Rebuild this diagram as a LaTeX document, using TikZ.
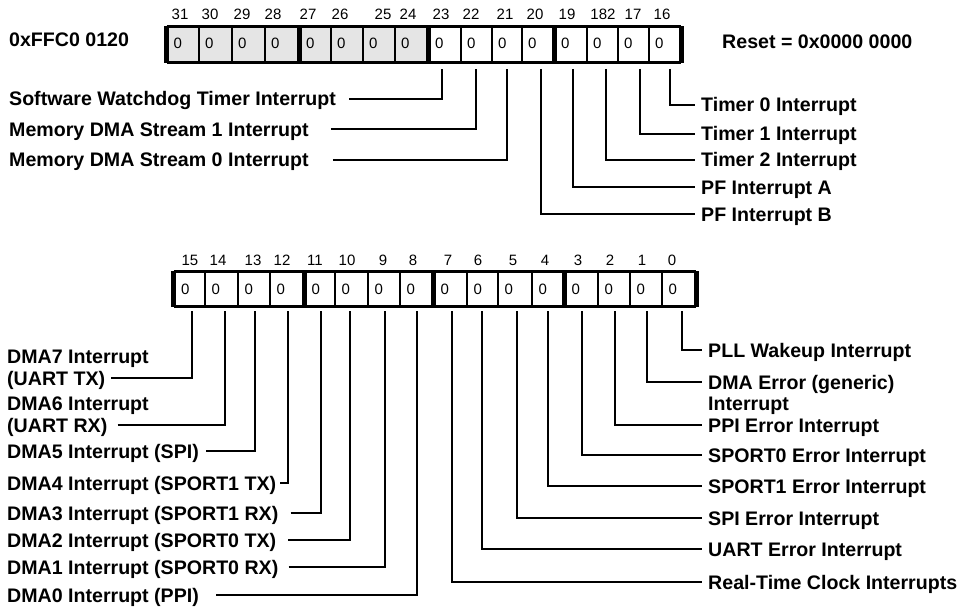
\documentclass[tikz,border=0pt]{standalone}
\usepackage{fontspec}
\setmainfont{Liberation Sans}
\tikzset{
  lab/.style={font=\bfseries\fontsize{19.6}{22}\selectfont, inner sep=0pt, text height=14pt, text depth=0pt},
  labl/.style={lab, anchor=west},
  bitnum/.style={font=\fontsize{15}{17}\selectfont, inner sep=0pt, text height=10.7pt, text depth=0pt},
  zero/.style={font=\fontsize{15}{17}\selectfont, inner sep=0pt, text height=10.7pt, text depth=0pt, anchor=west},
  conn/.style={line width=2pt},
  cell/.style={draw, line width=1.8pt, inner sep=0pt, minimum height=35pt},
  bar/.style={line width=5pt},
  rim/.style={line width=2.6pt},
}
\begin{document}
\begin{tikzpicture}[x=1pt,y=-1pt]
\useasboundingbox[fill=white] (0,0) rectangle (961,607);

% ---------------- top register ----------------
\foreach \b/\l/\r in {31/167.5/199, 30/199/232, 29/232/265, 28/265/300, 27/300/331, 26/331/363, 25/363/395, 24/395/429, 23/429/461, 22/461/492, 21/492/522, 20/522/555, 19/555/587, 18/587/618, 17/618/649, 16/649/680.5}{
  \pgfmathsetmacro\w{\r-\l}
  \pgfmathsetmacro\c{(\l+\r)/2}
  \pgfmathparse{\b>23 ? "black!10" : "white"}
  \edef\fc{\pgfmathresult}
  \node[cell, fill=\fc, minimum width=\w pt] (t\b) at (\c,44.5) {};
  \node[zero] (tz\b) at (\l+6,43) {0};
}
\draw[rim] (t31.north west) -- (t16.north east);
\draw[rim] (t31.south west) -- (t16.south east);
\draw[bar] (t31.north west) -- (t31.south west);
\draw[bar] (t27.north west) -- (t27.south west);
\draw[bar] (t23.north west) -- (t23.south west);
\draw[bar] (t19.north west) -- (t19.south west);
\draw[bar] (t16.north east) -- (t16.south east);

\foreach \b/\x/\t in {31/180/31, 30/210/30, 29/242/29, 28/273/28, 27/308/27, 26/340/26, 25/383/25, 24/408/24, 23/441/23, 22/471/22, 21/505/21, 20/535/20, 19/567/19, 18/603/182, 17/633/17, 16/662/16}{
  \node[bitnum] (tn\b) at (\x,14) {\t};
}

\node[labl] (addr) at (9,40) {0xFFC0 0120};
\node[labl] (reset) at (722,42) {Reset = 0x0000 0000};

% top connectors
\coordinate (v23) at (442,69);
\coordinate (v22) at (476,69);
\coordinate (v21) at (507,69);
\coordinate (v20) at (541,69);
\coordinate (v19) at (573,69);
\coordinate (v18) at (606,69);
\coordinate (v17) at (640,69);
\coordinate (v16) at (670,69);

\node[labl] (L23) at (9,99) {Software Watchdog Timer Interrupt};
\node[labl] (L22) at (9,129) {Memory DMA Stream 1 Interrupt};
\node[labl] (L21) at (9,160) {Memory DMA Stream 0 Interrupt};
\draw[conn] ([xshift=13pt]L23.east) -| (v23);
\draw[conn] ([xshift=22pt]L22.east) -| (v22);
\draw[conn] ([xshift=24pt]L21.east) -| (v21);

\node[labl] (R16) at (701,105) {Timer 0 Interrupt};
\node[labl] (R17) at (701,134) {Timer 1 Interrupt};
\node[labl] (R18) at (701,160) {Timer 2 Interrupt};
\node[labl] (R19) at (701,187) {PF Interrupt A};
\node[labl] (R20) at (701,214) {PF Interrupt B};
\foreach \b in {16,17,18,19,20}{
  \draw[conn] (v\b) |- ([xshift=-6pt]R\b.west);
}

% ---------------- bottom register ----------------
\foreach \b/\l/\r in {15/174.5/205, 14/205/238, 13/238/270, 12/270/305, 11/305/335, 10/335/368, 9/368/400, 8/400/434, 7/434/467, 6/467/498, 5/498/532, 4/532/565, 3/565/598, 2/598/630, 1/630/662, 0/662/695.5}{
  \pgfmathsetmacro\w{\r-\l}
  \pgfmathsetmacro\c{(\l+\r)/2}
  \node[cell, fill=white, minimum width=\w pt, minimum height=34pt] (b\b) at (\c,289) {};
  \node[zero] (bz\b) at (\l+6.5,289) {0};
}
\draw[rim] (b15.north west) -- (b0.north east);
\draw[rim] (b15.south west) -- (b0.south east);
\draw[bar] (b15.north west) -- (b15.south west);
\draw[bar] (b11.north west) -- (b11.south west);
\draw[bar] (b7.north west) -- (b7.south west);
\draw[bar] (b3.north west) -- (b3.south west);
\draw[bar] (b0.north east) -- (b0.south east);

\foreach \b/\x in {15/190, 14/218, 13/253, 12/282, 11/315, 10/347, 9/383, 8/413, 7/448, 6/478, 5/513, 4/545, 3/578, 2/610, 1/642, 0/672}{
  \node[bitnum] (bn\b) at (\x,260) {\b};
}

\coordinate (w15) at (192,311);
\coordinate (w14) at (225,311);
\coordinate (w13) at (255,311);
\coordinate (w12) at (288,311);
\coordinate (w11) at (321,311);
\coordinate (w10) at (350,311);
\coordinate (w9) at (385,311);
\coordinate (w8) at (417,311);
\coordinate (w7) at (452,311);
\coordinate (w6) at (482,311);
\coordinate (w5) at (517,311);
\coordinate (w4) at (548,311);
\coordinate (w3) at (582,311);
\coordinate (w2) at (615,311);
\coordinate (w1) at (647,311);
\coordinate (w0) at (682,311);

% bottom-left labels
\node[labl] (B15a) at (7,356) {DMA7 Interrupt};
\node[labl] (B15) at (7,378) {(UART TX)};
\node[labl] (B14a) at (7,403) {DMA6 Interrupt};
\node[labl] (B14) at (7,425) {(UART RX)};
\node[labl] (B13) at (7,451) {DMA5 Interrupt (SPI)};
\node[labl] (B12) at (7,483) {DMA4 Interrupt (SPORT1 TX)};
\node[labl] (B11) at (7,513) {DMA3 Interrupt (SPORT1 RX)};
\node[labl] (B10) at (7,540) {DMA2 Interrupt (SPORT0 TX)};
\node[labl] (B9) at (7,567) {DMA1 Interrupt (SPORT0 RX)};
\node[labl] (B8) at (7,595) {DMA0 Interrupt (PPI)};
\draw[conn] ([xshift=6pt]B15.east) -| (w15);
\draw[conn] ([xshift=10pt]B14.east) -| (w14);
\draw[conn] ([xshift=7pt]B13.east) -| (w13);
\draw[conn] ([xshift=4pt]B12.east) -| (w12);
\draw[conn] ([xshift=12pt]B11.east) -| (w11);
\draw[conn] ([xshift=12pt]B10.east) -| (w10);
\draw[conn] ([xshift=10pt]B9.east) -| (w9);
\draw[conn] ([xshift=17pt]B8.east) -| (w8);

% bottom-right labels
\node[labl] (S0) at (708,350) {PLL Wakeup Interrupt};
\node[labl] (S1) at (708,382) {DMA Error (generic)};
\node[labl] (S1b) at (708,403) {Interrupt};
\node[labl] (S2) at (708,425) {PPI Error Interrupt};
\node[labl] (S3) at (708,455) {SPORT0 Error Interrupt};
\node[labl] (S4) at (708,486) {SPORT1 Error Interrupt};
\node[labl] (S5) at (708,518) {SPI Error Interrupt};
\node[labl] (S6) at (708,549) {UART Error Interrupt};
\node[labl] (S7) at (708,582) {Real-Time Clock Interrupts};
\foreach \b in {0,1,2,3,4,5,6,7}{
  \draw[conn] (w\b) |- ([xshift=-6pt]S\b.west);
}
\end{tikzpicture}
\end{document}
